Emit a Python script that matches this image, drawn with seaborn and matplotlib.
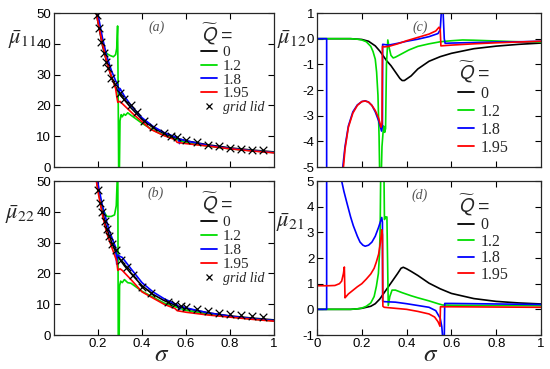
import numpy as np
import pandas as pd
import matplotlib
matplotlib.use('Agg')
import matplotlib.pyplot as plt
import seaborn as sns
from matplotlib.lines import Line2D

# --- panel (a): mu11 ---
s11_q0 = [0.18, 0.19, 0.2, 0.22, 0.24, 0.26, 0.28, 0.3, 0.32, 0.35, 0.4, 0.45, 0.5, 0.55, 0.6, 0.7, 0.8, 0.9, 1.0]
m11_q0 = [57, 51, 47, 39.5, 34, 29.5, 26, 23.5, 21.8, 19.2, 15.5, 12.8, 10.8, 9.5, 8.5, 7.2, 6.2, 5.5, 4.9]
s11_q12 = [0.18, 0.19, 0.2, 0.22, 0.232, 0.245, 0.255, 0.27, 0.28, 0.285, 0.289, 0.291, 0.294, 0.297, 0.3, 0.305,
           0.31, 0.318, 0.325, 0.335, 0.35, 0.4, 0.45, 0.5, 0.6, 0.7, 0.8, 0.9, 1.0]
m11_q12 = [57, 51.5, 48, 41, 37.4, 36.6, 36.2, 35.8, 36.5, 38.5, 45.8, 30, -2, -2, 15, 17, 16.3, 17.2, 16.8, 17.6,
           16.8, 14.2, 12.0, 10.3, 7.9, 6.8, 5.9, 5.3, 4.7]
s11_q18 = [0.18, 0.19, 0.2, 0.22, 0.24, 0.26, 0.28, 0.29, 0.295, 0.3, 0.32, 0.35, 0.4, 0.45, 0.5, 0.55, 0.565,
           0.57, 0.575, 0.6, 0.7, 0.8, 0.9, 1.0]
m11_q18 = [58, 53, 49.5, 42, 36, 31.5, 28, 26.8, 24, 25.5, 23, 20, 16, 13.2, 11.2, 9.8, 9.4, 7.6, 9.0, 8.5, 7.0,
           6.0, 5.3, 4.7]
s11_q195 = [0.18, 0.19, 0.2, 0.22, 0.24, 0.26, 0.27, 0.28, 0.285, 0.29, 0.3, 0.31, 0.36, 0.44, 0.5, 0.55, 0.56,
            0.6, 0.7, 0.8, 0.9, 1.0]
m11_q195 = [57, 51, 47, 40, 34, 29.5, 27.6, 25.5, 23, 21, 21.3, 20.6, 17.2, 12.2, 10.2, 8.9, 8.0, 7.6, 6.8, 5.9,
            5.2, 4.6]
s11_grid = [0.195, 0.205, 0.215, 0.225, 0.235, 0.245, 0.26, 0.275, 0.3, 0.32, 0.35, 0.375, 0.41, 0.45, 0.5,
            0.53, 0.56, 0.6, 0.65, 0.7, 0.75, 0.8, 0.85, 0.9, 0.95]
m11_grid = [49.5, 45, 40.5, 37, 34, 32, 29, 27, 24, 22, 20, 18, 15, 13, 11, 10.2, 9.6, 8.9, 8.0, 7.3, 6.7, 6.2,
            5.9, 5.6, 5.4]

# --- panel (b): mu22 ---
s22_q0 = [0.18, 0.19, 0.2, 0.22, 0.24, 0.26, 0.28, 0.3, 0.32, 0.35, 0.4, 0.45, 0.5, 0.55, 0.6, 0.7, 0.8, 0.9, 1.0]
m22_q0 = [57, 51.5, 47.5, 40, 34.5, 30.5, 27, 24.5, 22.5, 20, 16, 13.2, 11.2, 9.7, 8.6, 7.2, 6.2, 5.5, 4.9]
s22_q12 = [0.18, 0.2, 0.22, 0.24, 0.26, 0.275, 0.283, 0.288, 0.29, 0.292, 0.296, 0.298, 0.303, 0.31, 0.32, 0.335,
           0.35, 0.4, 0.5, 0.6, 0.7, 0.8, 0.9, 1.0]
m22_q12 = [57, 47.5, 41, 38.5, 38.5, 39, 42, 52, 55, -2, -2, 16, 17.5, 17, 18, 17, 16.8, 14.2, 10.4, 8.0, 6.8,
           5.9, 5.2, 4.6]
s22_q18 = [0.18, 0.2, 0.22, 0.25, 0.28, 0.285, 0.29, 0.3, 0.31, 0.35, 0.4, 0.45, 0.5, 0.56, 0.57, 0.58, 0.6,
           0.7, 0.8, 0.9, 1.0]
m22_q18 = [58, 49, 42, 34, 28.5, 23, 26, 25.5, 25.2, 21.5, 17, 14, 11.8, 9.8, 8.3, 9.3, 8.8, 7.2, 6.1, 5.3, 4.7]
s22_q195 = [0.18, 0.2, 0.22, 0.24, 0.26, 0.28, 0.285, 0.29, 0.3, 0.31, 0.35, 0.4, 0.45, 0.5, 0.55, 0.56, 0.6,
            0.7, 0.8, 0.9, 1.0]
m22_q195 = [56, 46.5, 39, 33, 29, 25, 24, 21, 21.5, 21, 18, 14, 12, 10, 8.6, 7.9, 7.4, 6.5, 5.8, 5.1, 4.5]
s22_grid = [0.2, 0.21, 0.22, 0.23, 0.24, 0.25, 0.265, 0.28, 0.305, 0.33, 0.36, 0.4, 0.44, 0.52, 0.55, 0.575,
            0.6, 0.65, 0.7, 0.75, 0.8, 0.85, 0.9, 0.95]
m22_grid = [47, 43, 40, 37, 34.5, 32, 29.5, 27.5, 24.5, 22, 19.5, 15.5, 13.5, 10.8, 10.2, 9.5, 9.2, 8.4, 7.8,
            7.0, 6.7, 6.5, 6.2, 5.9]

# --- panel (c): mu12 ---
s12_q0 = [0, 0.15, 0.2, 0.23, 0.26, 0.28, 0.29, 0.31, 0.33, 0.35, 0.37, 0.38, 0.39, 0.4, 0.42, 0.45, 0.5, 0.55,
          0.6, 0.7, 0.8, 0.9, 1.0]
m12_q0 = [0, 0, -0.03, -0.1, -0.28, -0.48, -0.6, -0.85, -1.05, -1.3, -1.55, -1.63, -1.63, -1.57, -1.45, -1.18,
          -0.88, -0.7, -0.57, -0.39, -0.29, -0.22, -0.17]
s12_q12 = [0, 0.15, 0.18, 0.2, 0.22, 0.24, 0.25, 0.26, 0.266, 0.272, 0.277, 0.281, 0.285, 0.29, 0.297, 0.302,
           0.306, 0.31, 0.316, 0.322, 0.33, 0.34, 0.35, 0.38, 0.41, 0.45, 0.5, 0.55, 0.6, 0.65, 0.7, 0.8, 0.9, 1.0]
m12_q12 = [0, 0, -0.02, -0.05, -0.12, -0.3, -0.5, -0.8, -1.3, -2.2, -3.8, -6, -6, -4.2, -3.4, -3.65, -3.5, -1.0,
           -0.05, -0.35, -0.65, -0.75, -0.72, -0.58, -0.44, -0.3, -0.2, -0.12, -0.08, -0.05, -0.06, -0.09, -0.12,
           -0.14]
s12_q18 = [0, 0.043, 0.043, 0.11, 0.115, 0.125, 0.14, 0.16, 0.18, 0.2, 0.215, 0.23, 0.245, 0.26, 0.275, 0.288,
           0.292, 0.293, 0.32, 0.36, 0.4, 0.45, 0.5, 0.54, 0.55, 0.556, 0.562, 0.568, 0.572, 0.6, 0.7, 0.8, 0.9, 1.0]
m12_q18 = [0, 0, -6, -6, -5, -4.2, -3.4, -2.85, -2.58, -2.45, -2.42, -2.47, -2.6, -2.85, -3.2, -3.6, -3.4, -0.22,
           -0.25, -0.18, -0.1, -0.02, 0.08, 0.2, 0.35, 1.2, 1.2, 0.0, -0.18, -0.17, -0.15, -0.13, -0.12, -0.1]
s12_q195 = [0.11, 0.118, 0.125, 0.14, 0.16, 0.18, 0.2, 0.215, 0.23, 0.245, 0.26, 0.275, 0.286, 0.29, 0.292, 0.3,
            0.32, 0.36, 0.4, 0.45, 0.5, 0.53, 0.545, 0.55, 0.553, 0.6, 0.7, 0.8, 0.9, 1.0]
m12_q195 = [-6, -5, -4.3, -3.45, -2.9, -2.6, -2.45, -2.43, -2.47, -2.6, -2.8, -3.1, -3.45, -3.3, -0.3, -0.32,
            -0.3, -0.2, -0.08, 0.05, 0.18, 0.3, 0.45, 0.35, -0.28, -0.25, -0.2, -0.16, -0.13, -0.1]

# --- panel (d): mu21 ---
s21_q0 = [0, 0.15, 0.18, 0.2, 0.22, 0.24, 0.26, 0.28, 0.3, 0.32, 0.34, 0.36, 0.375, 0.385, 0.4, 0.42, 0.45, 0.5,
          0.55, 0.6, 0.7, 0.8, 0.9, 1.0]
m21_q0 = [0, 0, 0.02, 0.04, 0.08, 0.12, 0.22, 0.4, 0.65, 0.9, 1.15, 1.4, 1.6, 1.64, 1.58, 1.48, 1.32, 1.02, 0.8,
          0.62, 0.42, 0.31, 0.25, 0.21]
s21_q12 = [0, 0.15, 0.18, 0.2, 0.22, 0.24, 0.255, 0.265, 0.274, 0.279, 0.282, 0.285, 0.298, 0.301, 0.306, 0.312,
           0.318, 0.325, 0.335, 0.35, 0.38, 0.42, 0.45, 0.5, 0.54, 0.56, 0.6, 0.8, 1.0]
m21_q12 = [0, 0, 0.02, 0.05, 0.12, 0.25, 0.5, 0.9, 1.4, 2.2, 3.2, 6, 6, 3.5, 3.6, 3.6, 0.15, 0.5, 0.75, 0.75, 0.65,
           0.53, 0.45, 0.33, 0.22, 0.17, 0.16, 0.15, 0.14]
s21_q18 = [0, 0.043, 0.043, 0.1, 0.11, 0.12, 0.133, 0.15, 0.162, 0.18, 0.192, 0.205, 0.215, 0.23, 0.245, 0.26,
           0.275, 0.289, 0.292, 0.293, 0.3, 0.35, 0.4, 0.45, 0.5, 0.53, 0.55, 0.557, 0.562, 0.568, 0.57, 0.6, 0.8,
           1.0]
m21_q18 = [0, 0, 6, 6, 5, 4.6, 4.16, 3.6, 3.26, 2.85, 2.62, 2.5, 2.46, 2.5, 2.62, 2.85, 3.2, 3.58, 3.4, 0.32, 0.3,
           0.28, 0.22, 0.15, 0.08, -0.05, -0.35, -0.68, -1.2, -1.2, 0.23, 0.23, 0.21, 0.19]
s21_q195 = [0, 0.05, 0.08, 0.1, 0.11, 0.118, 0.122, 0.125, 0.13, 0.14, 0.16, 0.18, 0.2, 0.22, 0.24, 0.255, 0.265,
            0.275, 0.283, 0.289, 0.292, 0.294, 0.3, 0.35, 0.4, 0.45, 0.5, 0.525, 0.54, 0.549, 0.551, 0.6, 0.8, 1.0]
m21_q195 = [0.92, 0.92, 0.93, 1.0, 1.1, 1.4, 1.65, 0.45, 0.5, 0.6, 0.74, 0.88, 1.0, 1.18, 1.38, 1.6, 1.85, 2.15,
            2.6, 3.1, 2.9, 0.12, 0.08, 0.04, 0.0, -0.08, -0.18, -0.3, -0.48, -0.66, 0.1, 0.1, 0.09, 0.08]

q_labels = ['0', '1.2', '1.8', '1.95']
q_colors = ['black', '#00dd00', '#0000ff', '#ff0000']

sns.set_style('ticks')
plt.rcParams['font.family'] = ['Liberation Sans', 'DejaVu Sans']
plt.rcParams['mathtext.fontset'] = 'stix'

fig = plt.figure(figsize=(5.5, 3.69), dpi=100)
ax_a = fig.add_axes([0.0982, 0.5474, 0.4, 0.4173])
ax_b = fig.add_axes([0.0982, 0.0921, 0.4, 0.4173])
ax_c = fig.add_axes([0.5764, 0.5474, 0.4073, 0.4173])
ax_d = fig.add_axes([0.5764, 0.0921, 0.4073, 0.4173])


def curve(ax, x, y, color):
    sns.lineplot(x=x, y=y, ax=ax, color=color, lw=1.2, sort=False, estimator=None)


panels = [
    (ax_a, [(s11_q0, m11_q0), (s11_q12, m11_q12), (s11_q18, m11_q18), (s11_q195, m11_q195)], (s11_grid, m11_grid)),
    (ax_b, [(s22_q0, m22_q0), (s22_q12, m22_q12), (s22_q18, m22_q18), (s22_q195, m22_q195)], (s22_grid, m22_grid)),
    (ax_c, [(s12_q0, m12_q0), (s12_q12, m12_q12), (s12_q18, m12_q18), (s12_q195, m12_q195)], None),
    (ax_d, [(s21_q0, m21_q0), (s21_q12, m21_q12), (s21_q18, m21_q18), (s21_q195, m21_q195)], None),
]

for ax, series, grid in panels:
    for (x, y), col in zip(series, q_colors):
        curve(ax, x, y, col)
    if grid is not None:
        sns.scatterplot(x=grid[0], y=grid[1], ax=ax, marker='x', color='black', s=30, linewidth=0.9, zorder=5)
    ax.set_xlim(0, 1)
    ax.tick_params(direction='in', top=True, right=True, length=4, width=0.8,
                   labelsize=9.5, colors='black', pad=2)
    for sp in ax.spines.values():
        sp.set_linewidth(0.9)
        sp.set_visible(True)
    ax.set_xlabel('')
    ax.set_ylabel('')

# axis limits and ticks
for ax in (ax_a, ax_b):
    ax.set_ylim(0, 50)
    ax.set_yticks([0, 10, 20, 30, 40, 50])
    ax.set_yticklabels(['0', '10', '20', '30', '40', '50'])
ax_c.set_ylim(-5, 1)
ax_c.set_yticks([-5, -4, -3, -2, -1, 0, 1])
ax_c.set_yticklabels(['-5', '-4', '-3', '-2', '-1', '0', '1'])
ax_d.set_ylim(-1, 5)
ax_d.set_yticks([-1, 0, 1, 2, 3, 4, 5])
ax_d.set_yticklabels(['-1', '0', '1', '2', '3', '4', '5'])

for ax in (ax_a, ax_c):
    ax.set_xticks([0.2, 0.4, 0.6, 0.8])
    ax.set_xticklabels([])
ax_b.set_xticks([0.2, 0.4, 0.6, 0.8, 1.0])
ax_b.set_xticklabels(['0.2', '0.4', '0.6', '0.8', '1'])
ax_d.set_xticks([0, 0.2, 0.4, 0.6, 0.8, 1.0])
ax_d.set_xticklabels(['0', '0.2', '0.4', '0.6', '0.8', '1'])

# labels
ylabs = [(ax_a, r'$\bar{\mu}_{\mathit{11}}$', -0.145, 0.825),
         (ax_c, r'$\bar{\mu}_{\mathit{12}}$', -0.112, 0.825),
         (ax_b, r'$\bar{\mu}_{\mathit{22}}$', -0.155, 0.78),
         (ax_d, r'$\bar{\mu}_{\mathit{21}}$', -0.12, 0.73)]
for ax, txt, xx, yy in ylabs:
    ax.set_ylabel(txt, rotation=0, fontsize=16, ha='center', va='center')
    ax.yaxis.set_label_coords(xx, yy)

for ax, xx in ((ax_b, 0.49), (ax_d, 0.505)):
    ax.set_xlabel(r'$\sigma$', fontsize=18, va='center')
    ax.xaxis.set_label_coords(xx, -0.123)

for ax, lab, xx, yy in ((ax_a, '(a)', 0.468, 0.909), (ax_b, '(b)', 0.464, 0.922),
                        (ax_c, '(c)', 0.46, 0.909), (ax_d, '(d)', 0.46, 0.91)):
    ax.text(xx, yy, lab, transform=ax.transAxes, ha='center', va='center',
            fontsize=10, style='italic', family='Liberation Serif', color='#555555')

# legends
for ax, anchor, fsize, spacing, with_grid in ((ax_a, (0.67, 0.95), 11, 0.0, True),
                                              (ax_b, (0.67, 0.94), 11, 0.02, True),
                                              (ax_c, (0.63, 0.70), 11.5, 0.12, False),
                                              (ax_d, (0.63, 0.93), 11.5, 0.03, False)):
    handles = [Line2D([], [], color=c, lw=1.3) for c in q_colors]
    labels = list(q_labels)
    if with_grid:
        handles.append(Line2D([], [], color='black', marker='x', ls='none', ms=5, mew=0.9))
        labels.append('grid lid')
    leg = ax.legend(handles, labels, loc='upper left', bbox_to_anchor=anchor, frameon=False,
                    title=r'$\widetilde{\mathsf{Q}}$ =', title_fontsize=14, alignment='left',
                    prop={'family': 'Liberation Serif', 'size': fsize}, handlelength=1.0,
                    handletextpad=0.4, labelspacing=spacing, borderpad=0, borderaxespad=0)
    if with_grid:
        leg.get_texts()[-1].set_fontsize(10)
        leg.get_texts()[-1].set_style('italic')

fig.savefig('out.png', dpi=100)
